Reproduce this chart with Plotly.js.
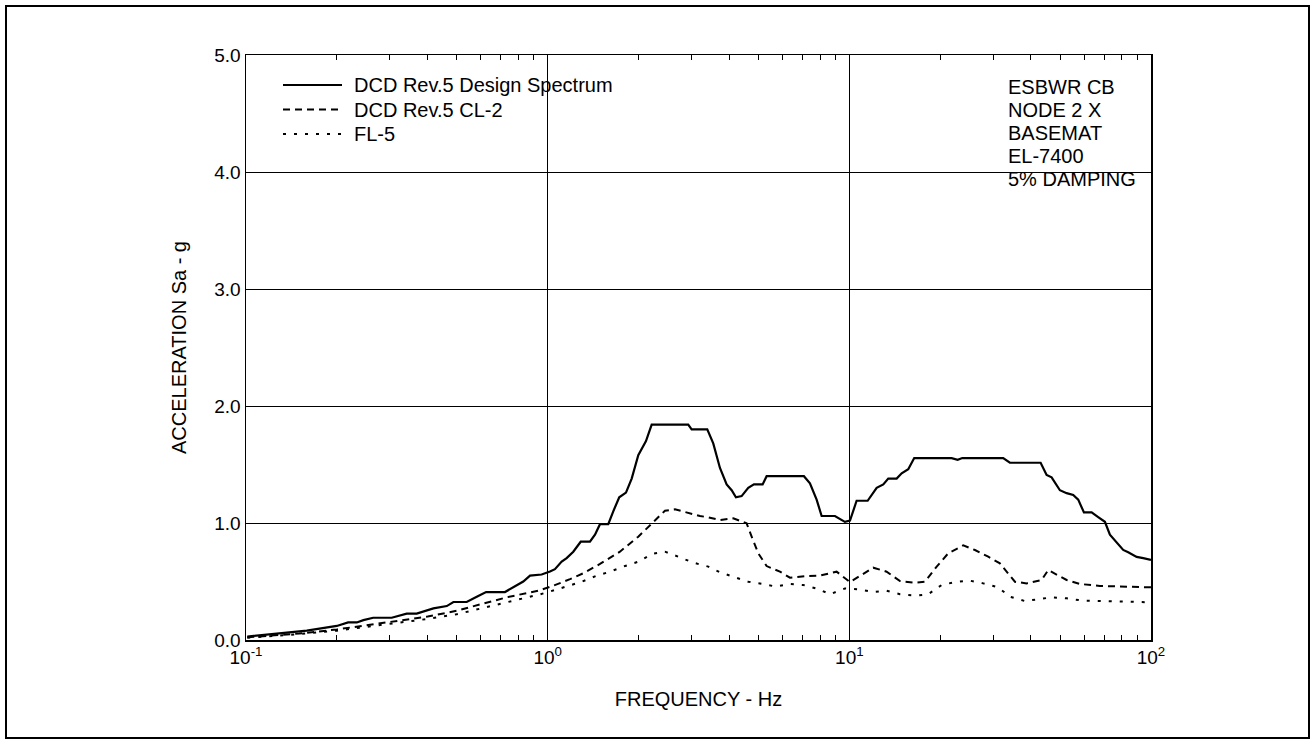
<!DOCTYPE html>
<html>
<head>
<meta charset="utf-8">
<script src="https://cdn.plot.ly/plotly-3.0.1.min.js"></script>
<style>
  html, body { margin: 0; padding: 0; background: #fff; }
  #chart { width: 1315px; height: 744px; }
</style>
</head>
<body>
<div id="chart"></div>
<script>
// Floor response spectra, ESBWR CB node 2 X, basemat EL-7400, 5% damping
const freqDesign = [0.101,0.123,0.159,0.200,0.218,0.233,0.245,0.264,0.304,0.341,0.368,0.418,0.463,0.487,0.539,0.582,0.625,0.722,0.790,0.830,0.874,0.955,1.018,1.057,1.113,1.156,1.216,1.287,1.381,1.435,1.491,1.588,1.650,1.727,1.818,1.899,1.997,2.118,2.212,2.924,3.001,3.381,3.539,3.725,3.920,4.073,4.208,4.395,4.623,4.828,5.159,5.319,7.071,7.403,7.791,8.094,8.960,9.669,10.05,10.57,11.50,12.32,12.96,13.46,14.35,14.91,15.68,16.41,21.83,22.86,23.68,32.36,34.06,43.07,45.08,46.83,49.89,52.52,55.23,57.38,59.94,63.56,66.83,70.34,73.08,76.91,80.89,84.03,89.62,94.24,100];
const accDesign = [0.03,0.05,0.08,0.12,0.15,0.15,0.17,0.19,0.19,0.225,0.225,0.27,0.29,0.325,0.325,0.37,0.41,0.41,0.47,0.50,0.55,0.56,0.585,0.605,0.67,0.70,0.755,0.84,0.84,0.90,0.99,0.99,1.10,1.22,1.26,1.38,1.58,1.70,1.84,1.84,1.80,1.80,1.68,1.47,1.33,1.28,1.22,1.23,1.30,1.33,1.33,1.40,1.40,1.34,1.20,1.06,1.06,1.01,1.02,1.19,1.19,1.30,1.33,1.38,1.38,1.425,1.46,1.555,1.555,1.54,1.555,1.555,1.515,1.515,1.41,1.39,1.28,1.255,1.24,1.20,1.09,1.09,1.05,1.01,0.90,0.83,0.77,0.75,0.71,0.70,0.685];

const freqCL2 = [0.101,0.150,0.200,0.300,0.400,0.499,0.732,0.943,1.044,1.186,1.312,1.491,1.736,1.997,2.212,2.448,2.642,3.038,3.198,3.407,3.725,4.123,4.566,4.745,4.991,5.319,5.888,6.356,7.219,7.991,9.077,10.05,10.70,12.00,13.29,14.72,16.50,17.81,19.48,21.27,23.86,26.09,28.87,31.56,35.39,38.70,43.40,45.63,52.52,58.12,67.70,87.32,100];
const accCL2 = [0.023,0.055,0.09,0.155,0.20,0.25,0.365,0.425,0.464,0.52,0.57,0.65,0.755,0.883,0.997,1.105,1.117,1.074,1.06,1.048,1.026,1.04,0.997,0.883,0.741,0.632,0.584,0.533,0.547,0.55,0.584,0.495,0.541,0.618,0.584,0.504,0.49,0.498,0.627,0.741,0.809,0.769,0.712,0.655,0.498,0.484,0.513,0.598,0.513,0.479,0.462,0.45,0.45];

const freqFL5 = [0.101,0.150,0.200,0.300,0.400,0.499,0.732,0.943,1.057,1.186,1.297,1.454,1.609,1.804,1.997,2.212,2.448,2.710,3.038,3.407,3.725,4.176,4.623,5.159,5.711,6.322,7.034,7.886,8.625,9.669,10.70,12.00,13.29,14.72,16.50,18.26,20.23,22.69,25.10,27.79,31.15,34.06,38.19,42.28,46.83,52.52,59.63,69.43,83.03,100];
const accFL5 = [0.02,0.05,0.08,0.14,0.18,0.22,0.32,0.39,0.427,0.47,0.498,0.55,0.584,0.632,0.669,0.735,0.755,0.712,0.661,0.627,0.579,0.536,0.498,0.479,0.456,0.479,0.47,0.436,0.391,0.44,0.433,0.41,0.421,0.391,0.379,0.391,0.47,0.498,0.507,0.484,0.45,0.37,0.333,0.348,0.365,0.356,0.336,0.333,0.328,0.322];

const seriesNames = ['DCD Rev.5 Design Spectrum', 'DCD Rev.5 CL-2', 'FL-5'];
const xTickVals = [0.1, 1, 10, 100];
const xTickText = ['10<sup>-1</sup>', '10<sup>0</sup>', '10<sup>1</sup>', '10<sup>2</sup>'];
const noteLines = ['ESBWR CB', 'NODE 2 X', 'BASEMAT', 'EL-7400', '5% DAMPING'];

const FONT = 'Liberation Sans, Arial, Helvetica, sans-serif';
const lineStyles = [
  { color: '#000', width: 2.2 },
  { color: '#000', width: 2, dash: '7px,5px' },
  { color: '#000', width: 2, dash: '3px,8px' }
];

const traces = [
  { x: freqDesign, y: accDesign, name: seriesNames[0], mode: 'lines', line: lineStyles[0] },
  { x: freqCL2, y: accCL2, name: seriesNames[1], mode: 'lines', line: lineStyles[1] },
  { x: freqFL5, y: accFL5, name: seriesNames[2], mode: 'lines', line: lineStyles[2] }
];

// plot area spans 246..1151 px horizontally, 55..640 px vertically
const W = 1315, H = 744, L = 246, R = 164, T = 55, B = 104;
const pw = W - L - R, ph = H - T - B;
const px = v => (v - L) / pw;
const py = v => (H - B - v) / ph;

// key in the upper-left corner: sample line plus series name per row
const keyRows = [85, 109.5, 134];
const keyShapes = seriesNames.map((n, i) => ({
  type: 'line', xref: 'paper', yref: 'paper', layer: 'above',
  x0: px(283), x1: px(342), y0: py(keyRows[i]), y1: py(keyRows[i]),
  line: lineStyles[i]
}));
const keyLabels = seriesNames.map((n, i) => ({
  xref: 'paper', yref: 'paper', x: px(352), y: py(keyRows[i]),
  xanchor: 'left', yanchor: 'middle', showarrow: false, text: n,
  font: { family: FONT, size: 20, color: '#000' }
}));

const notes = noteLines.map((t, i) => ({
  xref: 'paper', yref: 'paper', x: px(1006), y: py(86.5 + i * 23.2),
  xanchor: 'left', yanchor: 'middle', showarrow: false, text: t,
  font: { family: FONT, size: 20, color: '#000' }
}));

const layout = {
  width: W, height: H,
  margin: { l: L, r: R, t: T, b: B, pad: 0 },
  paper_bgcolor: '#fff', plot_bgcolor: '#fff',
  font: { family: FONT, size: 19, color: '#000' },
  showlegend: false,
  xaxis: {
    type: 'log', range: [-1, 2],
    tickvals: xTickVals, ticktext: xTickText,
    ticks: 'inside', ticklen: 5, tickcolor: '#000',
    showgrid: true, gridcolor: '#000', gridwidth: 1,
    showline: true, linecolor: '#000', linewidth: 1.5, mirror: 'allticks',
    minor: { ticks: 'inside', ticklen: 5, tickcolor: '#000', tickwidth: 1, dtick: 'D1', showgrid: false },
    zeroline: false,
    tickfont: { family: FONT, size: 19 },
    title: { text: 'FREQUENCY - Hz', font: { family: FONT, size: 20 }, standoff: 24 }
  },
  yaxis: {
    range: [0, 5], dtick: 1, tickformat: '.1f',
    ticks: 'inside', ticklen: 5, tickcolor: '#000',
    showgrid: true, gridcolor: '#000', gridwidth: 1,
    showline: true, linecolor: '#000', linewidth: 1.5, mirror: 'allticks',
    zeroline: false,
    tickfont: { family: FONT, size: 19 },
    title: { text: 'ACCELERATION Sa - g', font: { family: FONT, size: 20 }, standoff: 22 }
  },
  shapes: [
    // white panel behind the key
    { type: 'rect', xref: 'paper', yref: 'paper', layer: 'between',
      x0: px(247), x1: px(553), y0: py(160), y1: 1,
      fillcolor: '#fff', line: { width: 0 } },
    // white panel behind the case notes
    { type: 'rect', xref: 'paper', yref: 'paper', layer: 'between',
      x0: px(1004), x1: px(1149), y0: py(192), y1: 1,
      fillcolor: '#fff', line: { width: 0 } },
    // page frame
    { type: 'rect', xref: 'paper', yref: 'paper', layer: 'above',
      x0: px(6), x1: px(1309), y0: py(738), y1: py(6),
      fillcolor: 'rgba(0,0,0,0)', line: { color: '#000', width: 2 } }
  ].concat(keyShapes),
  annotations: keyLabels.concat(notes)
};

Plotly.newPlot('chart', traces, layout, { displayModeBar: false, staticPlot: true });
</script>
</body>
</html>
